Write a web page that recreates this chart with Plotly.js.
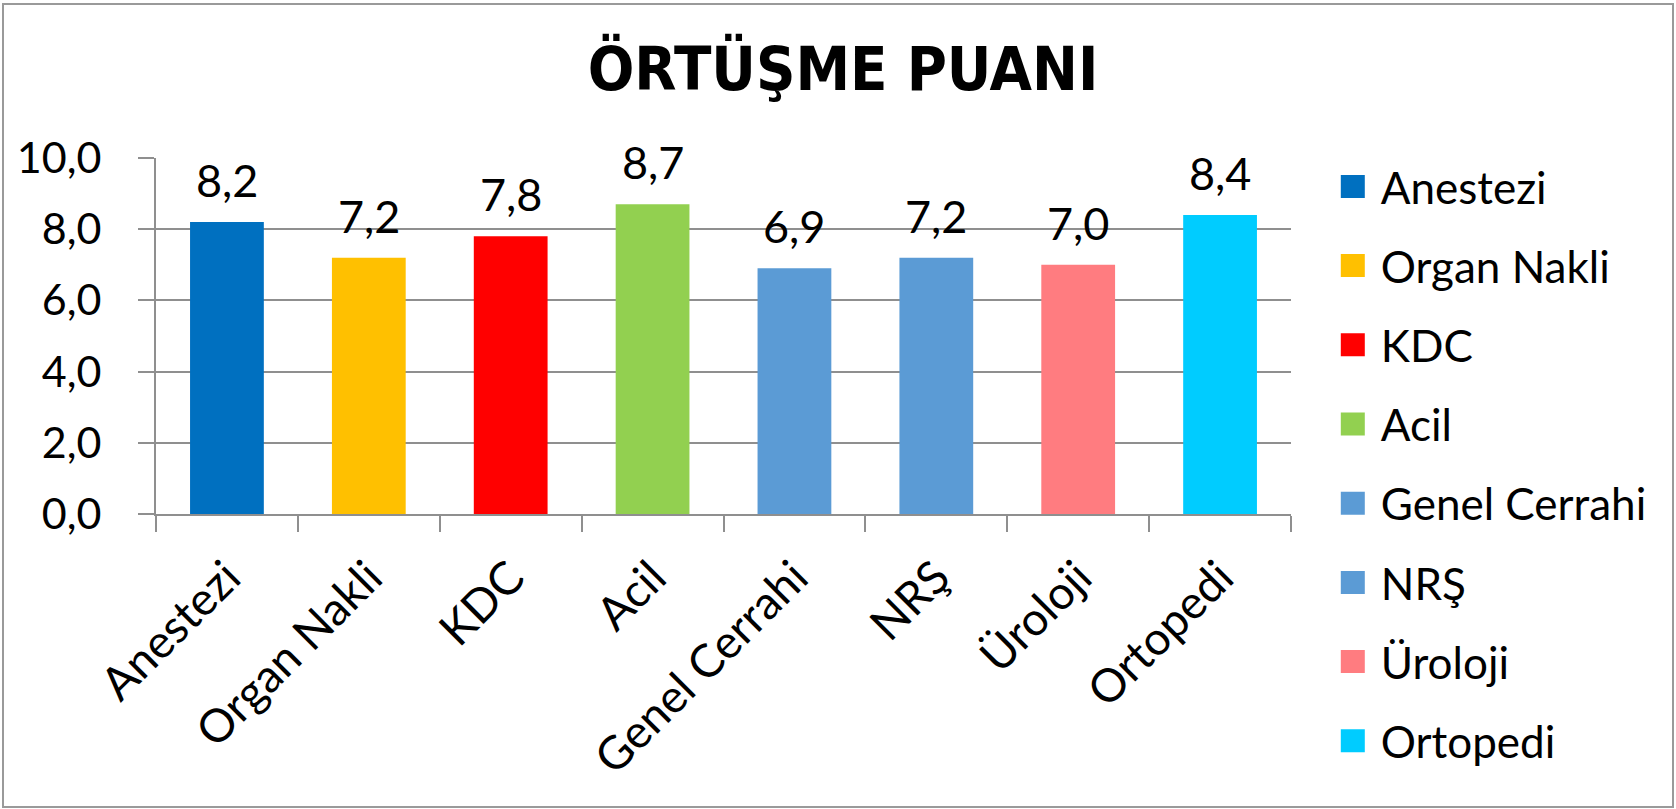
<!DOCTYPE html>
<html>
<head>
<meta charset="utf-8">
<script src="https://cdn.plot.ly/plotly-3.0.1.min.js"></script>
<style>
  html, body { margin: 0; padding: 0; background: #ffffff; }
  #wrap { position: relative; width: 1676px; height: 809px; }
  #chart { position: absolute; left: 0; top: 0; width: 1676px; height: 809px; }
  #frame { position: absolute; left: 2px; top: 3px; width: 1668px; height: 801px; border: 2px solid #9a9a9a; pointer-events: none; }
</style>
</head>
<body>
<div id="wrap">
  <div id="chart"></div>
  <div id="frame"></div>
</div>
<script>
const chartTitle = 'ÖRTÜŞME PUANI';
const categories = ['Anestezi', 'Organ Nakli', 'KDC', 'Acil', 'Genel Cerrahi', 'NRŞ', 'Üroloji', 'Ortopedi'];
const values = [8.2, 7.2, 7.8, 8.7, 6.9, 7.2, 7.0, 8.4];
const colors = ['#0070C0', '#FFC000', '#FF0000', '#92D050', '#5B9BD5', '#5B9BD5', '#FF7C80', '#00CCFF'];
const yTicks = [0, 2, 4, 6, 8, 10];

const FONT = 'Lato, "Open Sans", sans-serif';
const gridColor = '#8f8f8f';

const traces = categories.map((c, i) => ({
  type: 'bar',
  name: c,
  x: [c],
  y: [values[i]],
  width: 0.52,
  marker: { color: colors[i], line: { width: 0 } },
  legendgroup: 'g' + i,
  hoverinfo: 'x+y'
}));

const annotations = categories.map((c, i) => ({
  x: c,
  y: values[i],
  xref: 'x',
  yref: 'y',
  text: values[i].toFixed(1).replace('.', ','),
  showarrow: false,
  yanchor: 'bottom',
  yshift: 13,
  font: { family: FONT, size: 45, color: '#000000' }
}));

const layout = {
  width: 1676,
  height: 809,
  paper_bgcolor: '#ffffff',
  plot_bgcolor: '#ffffff',
  separators: ',.',
  font: { family: FONT, size: 44, color: '#000000' },
  title: {
    text: '<b>' + chartTitle + '</b>',
    font: { family: '"DejaVu Sans Condensed", "DejaVu Sans", sans-serif', size: 61, color: '#000000' },
    x: 0.503,
    xanchor: 'center',
    y: 0.915,
    yanchor: 'middle'
  },
  margin: { l: 156, r: 385, t: 158, b: 295 },
  barmode: 'overlay',
  showlegend: true,
  legend: {
    xref: 'container',
    yref: 'container',
    x: 0.8,
    xanchor: 'left',
    y: 0.813,
    yanchor: 'top',
    maxheight: 760,
    font: { family: FONT, size: 44, color: '#000000' },
    tracegroupgap: 19,
    bgcolor: 'rgba(0,0,0,0)'
  },
  xaxis: {
    type: 'category',
    categoryorder: 'array',
    categoryarray: categories,
    tickangle: -45,
    tickson: 'boundaries',
    ticks: 'outside',
    ticklen: 16,
    tickwidth: 2,
    tickcolor: gridColor,
    showline: true,
    linecolor: gridColor,
    linewidth: 2,
    showgrid: false,
    ticklabelstandoff: 16,
    tickfont: { family: FONT, size: 46, color: '#000000' }
  },
  yaxis: {
    range: [0, 10],
    tickvals: yTicks,
    tickformat: '.1f',
    ticks: 'outside',
    ticklen: 16,
    tickwidth: 2,
    tickcolor: gridColor,
    showline: true,
    linecolor: gridColor,
    linewidth: 2,
    showgrid: true,
    gridcolor: gridColor,
    gridwidth: 2,
    zeroline: false,
    ticklabelstandoff: 28,
    tickfont: { family: FONT, size: 43, color: '#000000' }
  },
  annotations: annotations
};

Plotly.newPlot('chart', traces, layout, { displayModeBar: false, responsive: false }).then(() => {
  document.querySelectorAll('#chart .legend .legendpoints path').forEach(p => {
    p.setAttribute('d', 'M4,11.5H-21V-11.5H4Z');
    p.style.strokeWidth = '0px';
  });
});
</script>
</body>
</html>
